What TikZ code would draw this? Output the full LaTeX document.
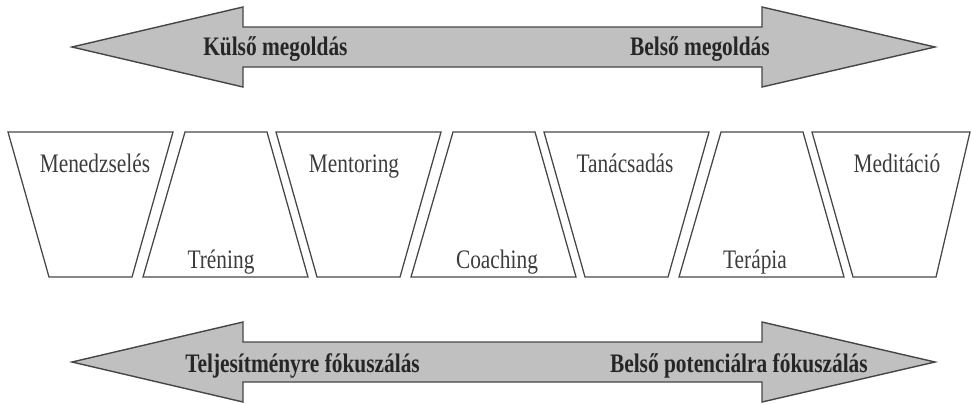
\documentclass[tikz,border=0pt]{standalone}
\usepackage{fontspec}
\setmainfont{Liberation Serif}[FakeStretch=0.8]
\usetikzlibrary{positioning}
\definecolor{arrowgray}{RGB}{192,192,192}
\definecolor{edgegray}{RGB}{70,70,70}
\definecolor{textgray}{RGB}{60,60,60}

\begin{document}
\begin{tikzpicture}[
    x=0.025cm, y=-0.025cm,
    bigarrow/.style={
        draw=edgegray,
        fill=arrowgray,
        line width=1pt,
        line join=miter
    },
    panel/.style={
        draw=edgegray,
        line width=0.9pt,
        line join=miter
    },
    arrowlabel/.style={
        font=\fontsize{19}{22}\selectfont\bfseries,
        text=black!85,
        inner sep=0pt
    },
    panellabel/.style={
        font=\fontsize{19}{22}\selectfont,
        text=textgray,
        inner sep=0pt
    }
]
\useasboundingbox (0,0) rectangle (971,403);

% Define arrow positions
\def\tipL{72}     % left tip
\def\baseL{243}   % left head base
\def\baseR{762}   % right head base
\def\tipR{935}    % right tip

% Panel rows
\def\ptop{132}
\def\pbot{277}

% Double arrows at the top and the bottom
\foreach \y in {47,362} {
    \draw[bigarrow] (\tipL,\y) -- (\baseL,\y-40) -- (\baseL,\y-20) -- (\baseR,\y-20)
        -- (\baseR,\y-40) -- (\tipR,\y) -- (\baseR,\y+40) -- (\baseR,\y+20)
        -- (\baseL,\y+20) -- (\baseL,\y+40) -- cycle;
}

% Arrow labels
\node[arrowlabel, anchor=base west] (kulso) at (203,55) {Külső megoldás};
\node[arrowlabel, anchor=base east] (belso) at (770,55) {Belső megoldás};
\node[arrowlabel, anchor=base west] (teljesitmeny) at (185,372) {Teljesítményre fókuszálás};
\node[arrowlabel, anchor=base east] (potencial) at (868,372) {Belső potenciálra fókuszálás};

% Panels wide at the top, label near the top
\foreach \a/\w/\x/\name/\txt in {8/165/95/menedzseles/Menedzselés,
        276/165/354/mentoring/Mentoring,
        544/165/625/tanacsadas/Tanácsadás,
        812/158/897/meditacio/Meditáció} {
    \draw[panel] (\a,\ptop) -- (\a+\w,\ptop) -- (\a+124,\pbot) -- (\a+41,\pbot) -- cycle;
    \node[panellabel, anchor=base] (\name) at (\x,172) {\txt};
}

% Panels wide at the bottom, label near the bottom
\foreach \a/\x/\name/\txt in {8/221/trening/Tréning,
        276/497/coaching/Coaching,
        544/755/terapia/Terápia} {
    \draw[panel] (\a+177,\ptop) -- (\a+259,\ptop) -- (\a+300,\pbot) -- (\a+135,\pbot) -- cycle;
    \node[panellabel, anchor=base] (\name) at (\x,268) {\txt};
}

\end{tikzpicture}
\end{document}
